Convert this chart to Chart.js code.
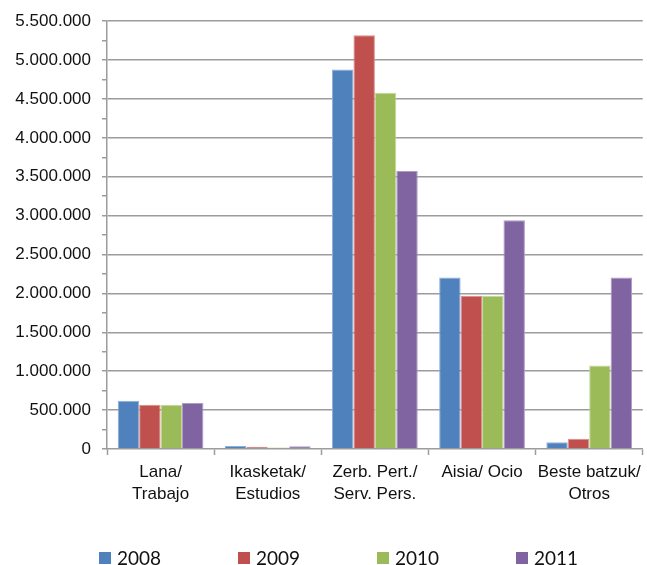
<!DOCTYPE html>
<html>
<head>
<meta charset="utf-8">
<script src="https://cdn.jsdelivr.net/npm/chart.js@4"></script>
<style>
  html, body { margin: 0; padding: 0; background: #fff; }
  #wrap { width: 647px; height: 565px; position: relative; }
</style>
</head>
<body>
<div id="wrap"><canvas id="c" width="647" height="565"></canvas></div>
<script>
const categories = [
  ['Lana/', 'Trabajo'],
  ['Ikasketak/', 'Estudios'],
  ['Zerb. Pert./', 'Serv. Pers.'],
  'Aisia/ Ocio',
  ['Beste batzuk/', 'Otros']
];
const seriesNames = ['2008', '2009', '2010', '2011'];
const values2008 = [620000, 40000, 4880000, 2205000, 86000];
const values2009 = [570000, 28000, 5320000, 1970000, 132000];
const values2010 = [570000, 20000, 4580000, 1970000, 1073000];
const values2011 = [590000, 36000, 3575000, 2940000, 2205000];
const yMax = 5500000;
const yStep = 500000;

const fills = ['#4F81BD', '#C0504D', '#9BBB59', '#8064A2'];
const edges = ['#8EAEDB', '#DA8C8A', '#C2D89A', '#AE9BC8'];
const gridGrey = '#9C9C9C';

function fmt(v) {
  return String(Math.round(v)).replace(/\B(?=(\d{3})+(?!\d))/g, '.');
}

const allValues = [values2008, values2009, values2010, values2011];

const legendPlugin = {
  id: 'bottomLegend',
  afterDraw(chart) {
    const ctx = chart.ctx;
    const startX = 99, pitch = 139, box = 12, yTop = 552;
    ctx.save();
    ctx.font = '19px Lato';
    ctx.textBaseline = 'middle';
    ctx.textAlign = 'left';
    chart.data.datasets.forEach((ds, i) => {
      const x = startX + i * pitch;
      ctx.fillStyle = ds.backgroundColor;
      ctx.fillRect(x, yTop, box, box);
      ctx.fillStyle = '#111';
      ctx.fillText(ds.label, x + box + 6, yTop + box / 2 + 1);
    });
    ctx.restore();
  }
};

new Chart(document.getElementById('c'), {
  type: 'bar',
  data: {
    labels: categories,
    datasets: seriesNames.map((name, i) => ({
      label: name,
      data: allValues[i],
      backgroundColor: fills[i],
      borderColor: edges[i],
      borderWidth: 1,
      categoryPercentage: 0.8,
      barPercentage: 1.0
    }))
  },
  options: {
    responsive: false,
    animation: false,
    devicePixelRatio: 1,
    layout: { padding: { top: 13, right: 3, left: 0, bottom: 0 } },
    plugins: {
      legend: { display: false },
      tooltip: { enabled: false }
    },
    scales: {
      x: {
        type: 'category',
        offset: true,
        grid: {
          offset: true,
          drawOnChartArea: false,
          drawTicks: true,
          tickLength: 6,
          tickColor: gridGrey,
          tickWidth: 1.5
        },
        border: { color: gridGrey, width: 1.5 },
        ticks: {
          autoSkip: false,
          maxRotation: 0,
          minRotation: 0,
          color: '#111',
          padding: 6,
          font: { family: 'Liberation Sans', size: 17, lineHeight: 1.3 }
        },
        afterFit(scale) { scale.height = 116; }
      },
      y: {
        min: 0,
        max: yMax,
        grid: {
          color: (c) => (c.tick && c.tick.value % yStep === 0 && c.tick.value !== 0) ? gridGrey : 'rgba(0,0,0,0)',
          lineWidth: 1.5,
          tickLength: 5,
          tickColor: gridGrey,
          tickWidth: 1.5
        },
        border: { color: gridGrey, width: 1.5 },
        ticks: {
          stepSize: yStep / 2,
          autoSkip: false,
          color: '#111',
          padding: 11,
          font: { family: 'Liberation Sans', size: 17 },
          callback: (v) => (v % yStep === 0 ? fmt(v) : '')
        },
        afterFit(scale) { scale.width = 107; }
      }
    }
  },
  plugins: [legendPlugin]
});
</script>
</body>
</html>
